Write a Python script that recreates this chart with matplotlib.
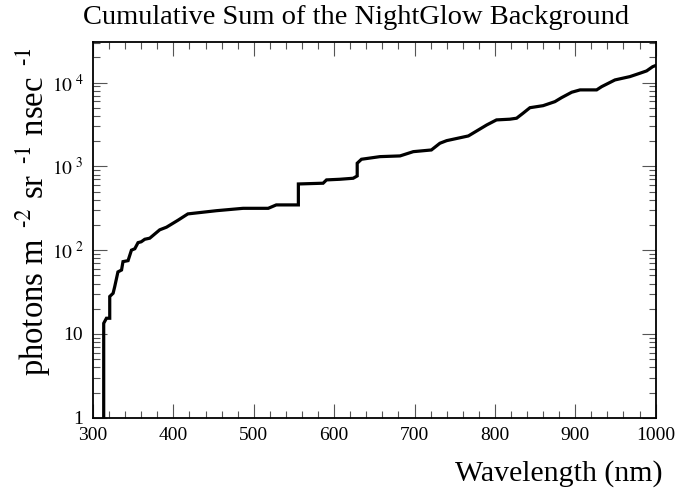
import numpy as np
import matplotlib
matplotlib.use("Agg")
import matplotlib.pyplot as plt
from matplotlib.ticker import MultipleLocator, LogLocator, FixedLocator, NullFormatter

plt.rcParams['font.family'] = ['Liberation Serif', 'DejaVu Serif']
plt.rcParams['mathtext.fontset'] = 'stix'

# cumulative nightglow sum (fine-binned, so drawn as a line)
wavelength = [313.3, 313.3, 316.7, 320.8, 320.8, 325, 327, 331, 335.5, 337.3, 343.6, 347.8,
              352, 356, 360, 364.4, 370.6, 383, 391.4, 405.8, 418, 453.6, 486.7, 518, 528, 555.5,
              555.5, 586.3, 590.5, 607, 623.7, 628.7, 628.7, 634, 657, 682, 698.5, 721, 731.6,
              740, 767, 790, 802, 818.6, 827, 835, 843.6, 860, 874.7, 883, 895.6, 906, 926.6,
              932.9, 949.4, 968, 980.5, 988.8, 996.3, 1000]
cum_sum = [1, 13.4, 15.4, 15.4, 28, 30.6, 36.7, 55, 58, 73, 75, 100,
           104, 123, 126, 135, 139, 175, 188, 228, 271, 296, 316, 316, 347, 347,
           617, 630, 690, 702, 722, 769, 1091, 1217, 1308, 1334, 1500, 1571, 1890,
           2030, 2310, 3130, 3590, 3660, 3760, 4310, 5020, 5310, 5930, 6620, 7680, 8190, 8190,
           8960, 10770, 11800, 12950, 13800, 15500, 16000]

fig = plt.figure(figsize=(6.75, 4.93), dpi=100)
ax = fig.add_axes([0.1378, 0.1527, 0.9713 - 0.1378, 0.9142 - 0.1527])

ax.plot(wavelength, cum_sum, color='black', lw=2.3, solid_joinstyle='miter')

ax.set_xlim(300, 1000)
ax.set_yscale('log')
ax.set_ylim(1, 30300)

ax.xaxis.set_major_locator(MultipleLocator(100))
ax.xaxis.set_minor_locator(MultipleLocator(20))
ax.yaxis.set_major_locator(FixedLocator([1, 10, 100, 1000, 10000]))
ax.yaxis.set_minor_locator(LogLocator(base=10, subs=np.arange(2, 10)))
ax.yaxis.set_minor_formatter(NullFormatter())
ax.set_yticklabels(['1', '10', r'$10^{\ 2}$', r'$10^{\ 3}$', r'$10^{\ 4}$'])

ax.tick_params(which='both', direction='in', top=True, right=True, color='#555555',
               labelsize=14, width=0.8)
ax.tick_params(which='major', length=10, pad=7)
ax.tick_params(which='minor', length=5)
for s in ax.spines.values():
    s.set_linewidth(1.3)

fig.text(0.527, 0.965, 'Cumulative Sum of the NightGlow Background', ha='center', va='center',
         fontsize=20.5)
fig.text(0.981, 0.04, 'Wavelength (nm)', ha='right', va='center', fontsize=21.5)
fig.text(0.049, 0.57,
         r'photons m$^{\ \ \text{-}2}$ sr$^{\ \ \text{-}1}$ nsec$^{\ \ \text{-}1}$',
         ha='center', va='center', rotation=90, fontsize=23.5)

fig.savefig('out.png', dpi=100)
